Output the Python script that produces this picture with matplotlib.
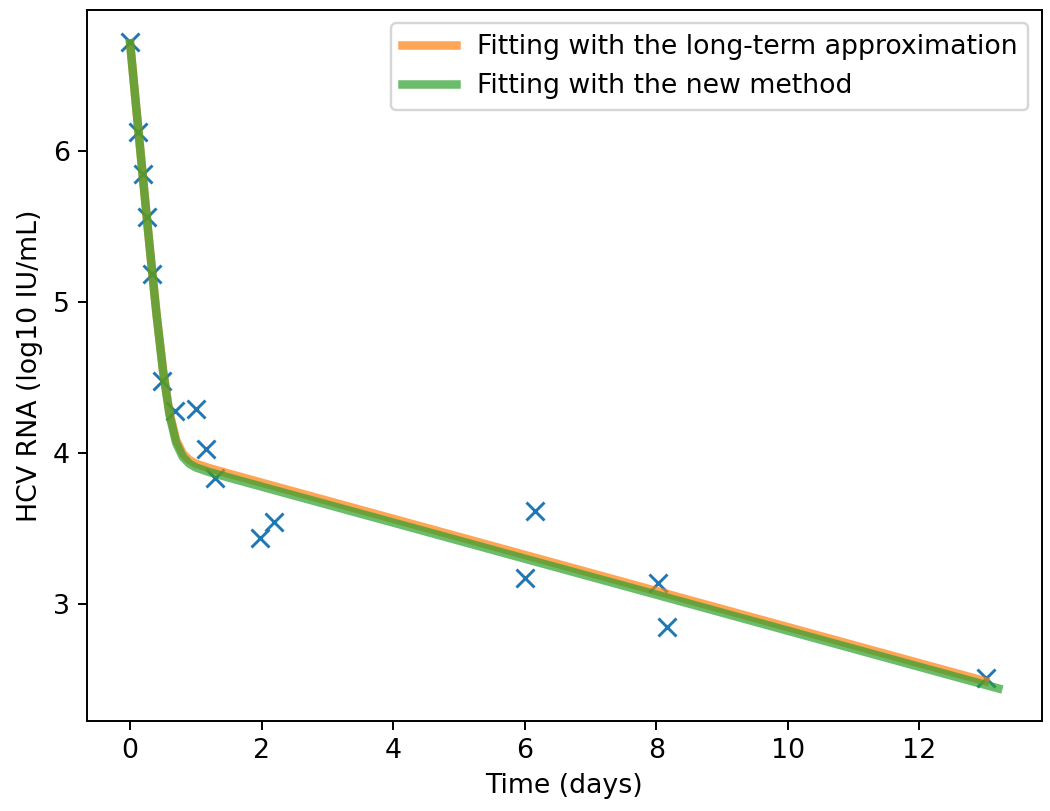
import numpy as np
import matplotlib
matplotlib.use("Agg")
import matplotlib.pyplot as plt

t_obs = [0.0, 0.12, 0.19, 0.25, 0.34, 0.49, 0.68, 1.0, 1.16, 1.29,
         1.98, 2.18, 6.0, 6.15, 8.02, 8.17, 13.02]
v_obs = [6.717, 6.125, 5.844, 5.561, 5.18, 4.473, 4.273, 4.291, 4.025, 3.83,
         3.433, 3.539, 3.167, 3.614, 3.139, 2.847, 2.508]

# fitted curve with the long-term approximation
t_long = [0.0, 0.1, 0.2, 0.3, 0.4, 0.5, 0.6, 0.7, 0.8, 0.9, 1.0,
          1.2, 1.5, 2.0, 4.0, 6.0, 8.0, 10.0, 12.0, 13.0]
v_long = [6.71, 6.25, 5.796, 5.349, 4.923, 4.547, 4.26, 4.084, 3.994, 3.951, 3.927,
          3.898, 3.861, 3.801, 3.562, 3.323, 3.084, 2.845, 2.606, 2.487]

# fitted curve with the new method
t_new = [0.0, 0.1, 0.2, 0.3, 0.4, 0.5, 0.6, 0.7, 0.8, 0.9, 1.0,
         1.2, 1.5, 2.0, 4.0, 6.0, 8.0, 10.0, 12.0, 13.2]
v_new = [6.71, 6.251, 5.796, 5.348, 4.92, 4.54, 4.247, 4.064, 3.972, 3.927, 3.902,
         3.872, 3.835, 3.775, 3.537, 3.298, 3.06, 2.821, 2.582, 2.439]


def main():
    plt.rcParams['font.size'] = 11
    fig = plt.figure(figsize=(6.0, 811 / 175), dpi=175)
    ax = fig.add_axes([0.0826, 0.1113, 0.9095, 0.8764])

    ax.plot(t_obs, v_obs, "x", color="C0", ms=7.5, mew=1.2, zorder=1)
    ax.plot(t_long, v_long, color="C1", lw=3.5, alpha=0.7,
            label="Fitting with the long-term approximation", zorder=2)
    ax.plot(t_new, v_new, color="C2", lw=3.5, alpha=0.7,
            label="Fitting with the new method", zorder=3)

    ax.set_xlabel("Time (days)")
    ax.set_ylabel("HCV RNA (log10 IU/mL)")
    ax.set_yticks([3, 4, 5, 6])
    ax.legend(loc="upper right")

    fig.savefig("out.png", dpi=175)


if __name__ == '__main__':
    main()
